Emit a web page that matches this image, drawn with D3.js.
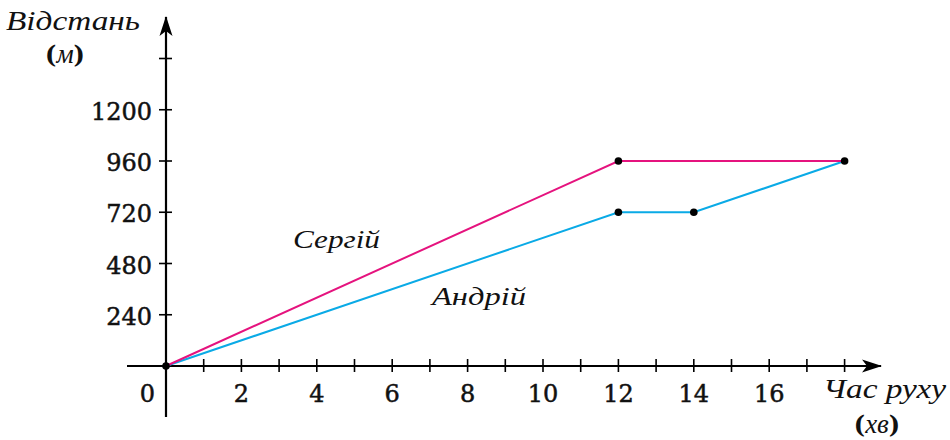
<!DOCTYPE html>
<html>
<head>
<meta charset="utf-8">
<script src="https://cdn.jsdelivr.net/npm/d3@7"></script>
<style>
  body { margin: 0; background: #fff; }
  text { font-family: "DejaVu Serif", serif; fill: #111; }
  .it { font-family: "Liberation Serif", serif; font-style: italic; }
</style>
</head>
<body>
<div id="chart"></div>
<script>
// data
var sergiyTime = [0, 12, 18];
var sergiyDist = [0, 960, 960];
var andriyTime = [0, 12, 14, 18];
var andriyDist = [0, 720, 720, 960];
var xTickLabels = [2, 4, 6, 8, 10, 12, 14, 16];
var yTickLabels = [240, 480, 720, 960, 1200];
var xMinorTicks = d3.range(1, 19);
var yMinorTicks = [240, 480, 720, 960, 1200, 1440];

var width = 950, height = 440;

var svg = d3.select("#chart")
  .append("svg")
  .attr("width", width)
  .attr("height", height);

// scales
var x = d3.scaleLinear().domain([0, 18]).range([166, 844.6]);
var y = d3.scaleLinear().domain([0, 960]).range([366, 161]);

// arrow head
svg.append("defs").append("marker")
  .attr("id", "arrow")
  .attr("viewBox", "0 0 20 14")
  .attr("refX", 19).attr("refY", 7)
  .attr("markerWidth", 20).attr("markerHeight", 14)
  .attr("markerUnits", "userSpaceOnUse")
  .attr("orient", "auto")
  .append("path")
  .attr("d", "M0,0.5 L20,7 L0,13.5 L5,7 Z")
  .attr("fill", "#000");

// X axis line
svg.append("line")
  .attr("x1", 127).attr("x2", 881)
  .attr("y1", y(0)).attr("y2", y(0))
  .attr("stroke", "#000").attr("stroke-width", 2.2)
  .attr("marker-end", "url(#arrow)");

// Y axis line
svg.append("line")
  .attr("x1", x(0)).attr("x2", x(0))
  .attr("y1", 417).attr("y2", 17)
  .attr("stroke", "#000").attr("stroke-width", 2.2)
  .attr("marker-end", "url(#arrow)");

// ticks
svg.selectAll(".xtick")
  .data(xMinorTicks)
  .enter().append("line")
  .attr("x1", function(d) { return x(d); })
  .attr("x2", function(d) { return x(d); })
  .attr("y1", y(0) - 7).attr("y2", y(0) + 6)
  .attr("stroke", "#000").attr("stroke-width", 1.6);

svg.selectAll(".ytick")
  .data(yMinorTicks)
  .enter().append("line")
  .attr("x1", x(0) - 7).attr("x2", x(0) + 6)
  .attr("y1", function(d) { return y(d); })
  .attr("y2", function(d) { return y(d); })
  .attr("stroke", "#000").attr("stroke-width", 1.6);

// tick labels
svg.selectAll(".xlab")
  .data(xTickLabels)
  .enter().append("text")
  .attr("x", function(d) { return x(d); })
  .attr("y", 402)
  .attr("text-anchor", "middle")
  .style("font-size", "24px")
  .style("stroke", "#111").style("stroke-width", 0.5)
  .text(function(d) { return d; });

svg.selectAll(".ylab")
  .data(yTickLabels)
  .enter().append("text")
  .attr("x", 152)
  .attr("y", function(d) { return y(d) + 10; })
  .attr("text-anchor", "end")
  .style("font-size", "24px")
  .style("stroke", "#111").style("stroke-width", 0.5)
  .text(function(d) { return d; });

svg.append("text")
  .attr("x", 147.5).attr("y", 402)
  .attr("text-anchor", "middle")
  .style("font-size", "24px")
  .style("stroke", "#111").style("stroke-width", 0.5)
  .text("0");

// lines
var line = d3.line()
  .x(function(d) { return x(d[0]); })
  .y(function(d) { return y(d[1]); });

svg.append("path")
  .datum(d3.zip(andriyTime, andriyDist))
  .attr("d", line)
  .attr("fill", "none")
  .attr("stroke", "#0aaae6")
  .attr("stroke-width", 2);

svg.append("path")
  .datum(d3.zip(sergiyTime, sergiyDist))
  .attr("d", line)
  .attr("fill", "none")
  .attr("stroke", "#e5137e")
  .attr("stroke-width", 2);

// points
var dots = [[0, 0], [12, 960], [18, 960], [12, 720], [14, 720]];
svg.selectAll(".dot")
  .data(dots)
  .enter().append("circle")
  .attr("cx", function(d) { return x(d[0]); })
  .attr("cy", function(d) { return y(d[1]); })
  .attr("r", 3.8)
  .attr("fill", "#000");

// series names
svg.append("text")
  .attr("class", "it")
  .attr("x", 293).attr("y", 248)
  .attr("textLength", 87).attr("lengthAdjust", "spacingAndGlyphs")
  .style("font-size", "25px")
  .text("Сергій");

svg.append("text")
  .attr("class", "it")
  .attr("x", 432).attr("y", 305)
  .attr("textLength", 94).attr("lengthAdjust", "spacingAndGlyphs")
  .style("font-size", "25px")
  .text("Андрій");

// Y label
svg.append("text")
  .attr("class", "it")
  .attr("x", 6).attr("y", 30)
  .attr("textLength", 134).attr("lengthAdjust", "spacingAndGlyphs")
  .style("font-size", "27px")
  .text("Відстань");

var ym = svg.append("text")
  .attr("x", 65).attr("y", 63)
  .attr("text-anchor", "middle")
  .style("font-size", "24px").style("font-weight", "bold");
ym.append("tspan").text("(");
ym.append("tspan").attr("class", "it").style("font-weight", "normal").style("font-size", "27px").text("м");
ym.append("tspan").text(")");

// X label
svg.append("text")
  .attr("class", "it")
  .attr("x", 823).attr("y", 398)
  .attr("textLength", 123).attr("lengthAdjust", "spacingAndGlyphs")
  .style("font-size", "27px")
  .text("Час руху");

var xm = svg.append("text")
  .attr("x", 877).attr("y", 433)
  .attr("text-anchor", "middle")
  .style("font-size", "24px").style("font-weight", "bold");
xm.append("tspan").text("(");
xm.append("tspan").attr("class", "it").style("font-weight", "normal").style("font-size", "27px").text("хв");
xm.append("tspan").text(")");
</script>
</body>
</html>
